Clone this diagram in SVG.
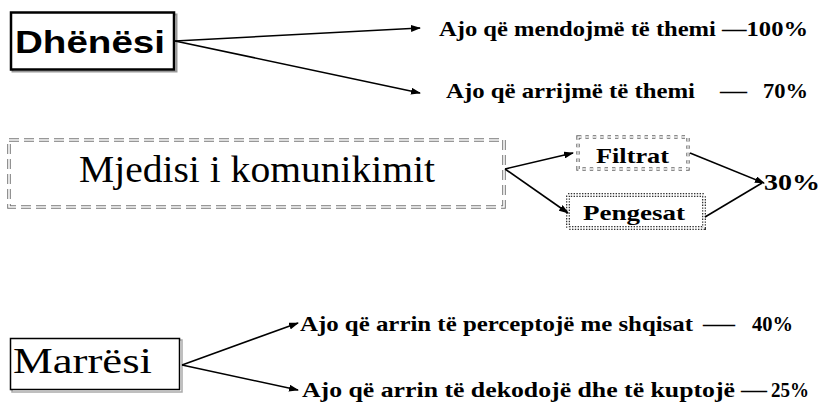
<svg xmlns="http://www.w3.org/2000/svg" width="825" height="404" viewBox="0 0 825 404">
<defs>
<marker id="ah" markerUnits="userSpaceOnUse" markerWidth="10" markerHeight="7" refX="9" refY="3.5" orient="auto">
<path d="M0,0 L10,3.5 L0,7 z" fill="#000"/>
</marker>
<style>
.conn{stroke:#000;stroke-width:1.6;fill:none}
.lbl{font-family:"Liberation Serif","Times New Roman",serif;font-weight:700;font-size:21px;fill:#000}
.bser{font-family:"Liberation Serif","Times New Roman",serif;font-weight:700;fill:#000}
.serif{font-family:"Liberation Serif","Times New Roman",serif;fill:#000}
.sans{font-family:"Liberation Sans",Arial,sans-serif;fill:#000}
</style>
</defs>
<rect width="825" height="404" fill="#fff"/>

<g id="dhenesi">
<rect x="12.5" y="14.5" width="164" height="57" fill="none" stroke="#999" stroke-width="2"/>
<rect x="11" y="12.5" width="163" height="57" fill="#fff" stroke="#000" stroke-width="2.5"/>
<text class="sans" x="15" y="53" font-size="32" font-weight="bold" textLength="150" lengthAdjust="spacingAndGlyphs">Dhënësi</text>
</g>

<g id="mjedisi">
<rect x="9" y="140" width="495" height="67" fill="#fff" stroke="#777" stroke-width="3.6" stroke-dasharray="10 5"/>
<rect x="9" y="140" width="495" height="67" fill="none" stroke="#fff" stroke-width="1.6" stroke-dasharray="10 5"/>
<text class="serif" x="79" y="182" font-size="38" textLength="356" lengthAdjust="spacingAndGlyphs">Mjedisi i komunikimit</text>
</g>

<g id="filtrat">
<rect x="578" y="137" width="110" height="32" fill="#fff" stroke="#666" stroke-width="3.4" stroke-dasharray="3.4 4"/>
<rect x="578" y="137" width="110" height="32" fill="none" stroke="#fff" stroke-width="1.3" stroke-dasharray="3.4 4"/>
<text class="bser" x="596" y="163" font-size="22" textLength="73" lengthAdjust="spacingAndGlyphs">Filtrat</text>
</g>

<g id="pengesat">
<rect x="568" y="195" width="136" height="33" fill="#fff" stroke="#333" stroke-width="4" stroke-dasharray="1.4 1.4"/>
<rect x="568" y="195" width="136" height="33" fill="none" stroke="#fff" stroke-width="1.4"/>
<text class="bser" x="583" y="220" font-size="22" textLength="102" lengthAdjust="spacingAndGlyphs">Pengesat</text>
</g>

<g id="p30">
<text class="bser" x="764" y="190" font-size="24" textLength="56" lengthAdjust="spacingAndGlyphs">30%</text>
</g>

<g id="marresi">
<rect x="12" y="340" width="170" height="52" fill="none" stroke="#aaa" stroke-width="1.5"/>
<rect x="10.5" y="338.5" width="169" height="51" fill="#fff" stroke="#000" stroke-width="1.5"/>
<text class="serif" x="13" y="373" font-size="35" textLength="139" lengthAdjust="spacingAndGlyphs">Marrësi</text>
</g>

<g id="t100">
<text class="lbl" x="439" y="36" textLength="369" lengthAdjust="spacingAndGlyphs">Ajo që mendojmë të themi —100%</text>
</g>
<g id="t70">
<text class="lbl" x="446" y="98" textLength="249" lengthAdjust="spacingAndGlyphs">Ajo që arrijmë të themi</text>
<text class="lbl" x="720" y="98" textLength="27" lengthAdjust="spacingAndGlyphs">—</text>
<text class="lbl" x="763" y="98" textLength="45" lengthAdjust="spacingAndGlyphs">70%</text>
</g>
<g id="t40">
<text class="lbl" x="300" y="331" textLength="393" lengthAdjust="spacingAndGlyphs">Ajo që arrin të perceptojë me shqisat</text>
<text class="lbl" x="703" y="331" textLength="32" lengthAdjust="spacingAndGlyphs">—</text>
<text class="lbl" x="752" y="331" textLength="41" lengthAdjust="spacingAndGlyphs">40%</text>
</g>
<g id="t25">
<text class="lbl" x="302" y="397" textLength="433" lengthAdjust="spacingAndGlyphs">Ajo që arrin të dekodojë dhe të kuptojë</text>
<text class="lbl" x="741" y="397" textLength="26" lengthAdjust="spacingAndGlyphs">—</text>
<text class="lbl" x="771" y="397" textLength="38" lengthAdjust="spacingAndGlyphs">25%</text>
</g>

<g id="connectors">
<line class="conn" x1="175" y1="41" x2="420" y2="28" marker-end="url(#ah)"/>
<line class="conn" x1="175" y1="41" x2="420" y2="93" marker-end="url(#ah)"/>
<line class="conn" x1="505" y1="169" x2="573" y2="153" marker-end="url(#ah)"/>
<line class="conn" x1="505" y1="169" x2="568" y2="213" marker-end="url(#ah)"/>
<line class="conn" x1="690" y1="153" x2="764" y2="183" marker-end="url(#ah)"/>
<line class="conn" x1="705" y1="217" x2="762" y2="183"/>
<line class="conn" x1="182" y1="365" x2="298" y2="323" marker-end="url(#ah)"/>
<line class="conn" x1="182" y1="365" x2="298" y2="390" marker-end="url(#ah)"/>
</g>
</svg>
